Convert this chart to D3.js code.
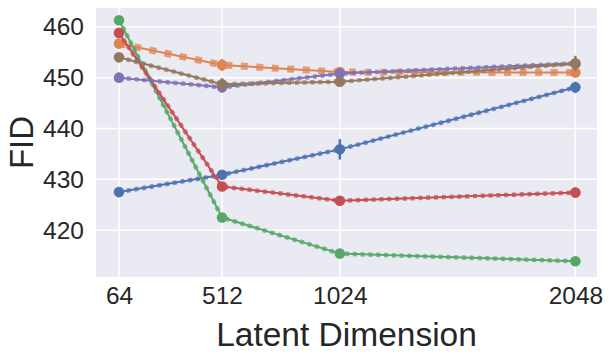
<!DOCTYPE html>
<html>
<head>
<meta charset="utf-8">
<script src="https://cdn.jsdelivr.net/npm/d3@7"></script>
<style>
	body { margin: 0; background: #fff; }
	text { font-family: "Liberation Sans", Arial, sans-serif; fill: #262626; }
</style>
</head>
<body>
<svg id="chart" width="610" height="354"></svg>
<script>
// latent dimension sizes on the x axis
var dims = [64, 512, 1024, 2048];
var yTicks = [420, 430, 440, 450, 460];

// FID per run
var blueFid = [427.5, 430.9, 435.9, 448.1];
var orangeFid = [456.7, 452.5, 451.1, 451.0];
var greenFid = [461.3, 422.5, 415.4, 413.9];
var redFid = [458.8, 428.6, 425.8, 427.4];
var purpleFid = [450.0, 448.1, 450.8, 452.8];
var brownFid = [454.0, 448.7, 449.2, 452.8];

// half length of the error bars
var blueErr = [0.3, 0.6, 2.0, 1.1];
var orangeErr = [0.5, 1.2, 1.0, 0.5];
var greenErr = [0.3, 0.3, 0.3, 0.3];
var redErr = [0.5, 0.5, 0.5, 1.0];
var purpleErr = [0.3, 1.0, 0.5, 0.5];
var brownErr = [0.5, 1.2, 0.5, 1.5];

var series = [
	{vals: blueFid, err: blueErr, color: '#4C72B0', big: false},
	{vals: orangeFid, err: orangeErr, color: '#DD8452', big: true},
	{vals: greenFid, err: greenErr, color: '#55A868', big: false},
	{vals: redFid, err: redErr, color: '#C44E52', big: false},
	{vals: purpleFid, err: purpleErr, color: '#8172B3', big: false},
	{vals: brownFid, err: brownErr, color: '#937860', big: false}
];

var svg = d3.select('#chart');
// plot box (note: "top" is taken by window.top)
var pLeft = 96, pRight = 597, pTop = 8, pBottom = 277;

var x = d3.scaleLinear().domain([-36, 2142]).range([pLeft, pRight]);
var y = d3.scaleLinear().domain([410.8, 463.7]).range([pBottom, pTop]);

svg.append('rect')
	.attr('x', pLeft).attr('y', pTop)
	.attr('width', pRight - pLeft).attr('height', pBottom - pTop)
	.attr('fill', '#EAEAF2');

// grid
svg.append('g').selectAll('line').data(dims).join('line')
	.attr('x1', d => x(d)).attr('x2', d => x(d))
	.attr('y1', pTop).attr('y2', pBottom)
	.attr('stroke', '#fff').attr('stroke-width', 1.5);
svg.append('g').selectAll('line').data(yTicks).join('line')
	.attr('x1', pLeft).attr('x2', pRight)
	.attr('y1', d => y(d)).attr('y2', d => y(d))
	.attr('stroke', '#fff').attr('stroke-width', 1.5);

// axes, only the labels are shown
var xAxis = svg.append('g')
	.attr('transform', `translate(0,${pBottom})`)
	.call(d3.axisBottom(x).tickValues(dims).tickFormat(d3.format('d')).tickSize(0).tickPadding(10));
var yAxis = svg.append('g')
	.attr('transform', `translate(${pLeft},0)`)
	.call(d3.axisLeft(y).tickValues(yTicks).tickFormat(d3.format('d')).tickSize(0).tickPadding(12));
[xAxis, yAxis].forEach(function (a) {
	a.select('.domain').remove();
	a.attr('font-size', 24.5).attr('font-family', '"Liberation Sans", Arial, sans-serif');
	a.selectAll('text').attr('fill', '#262626');
});

svg.append('text')
	.attr('x', (pLeft + pRight) / 2).attr('y', 346)
	.attr('text-anchor', 'middle')
	.attr('font-size', 33.5)
	.text('Latent Dimension');
svg.append('text')
	.attr('transform', `translate(33,${(pTop + pBottom) / 2}) rotate(-90)`)
	.attr('text-anchor', 'middle')
	.attr('font-size', 33)
	.text('FID');

var line = d3.line()
	.x((d, i) => x(dims[i]))
	.y(d => y(d));

series.forEach(function (s) {
	var g = svg.append('g');
	g.append('path')
		.attr('d', line(s.vals))
		.attr('fill', 'none')
		.attr('stroke', s.color)
		.attr('stroke-width', 2);
	// the little square markers along each line
	g.append('path')
		.attr('d', line(s.vals))
		.attr('fill', 'none')
		.attr('stroke', s.color)
		.attr('stroke-opacity', 0.75)
		.attr('stroke-width', s.big ? 7 : 4.5)
		.attr('stroke-dasharray', s.big ? '7 8.5' : '4 3.8');
	g.selectAll('.err').data(s.vals).join('line')
		.attr('class', 'err')
		.attr('x1', (d, i) => x(dims[i])).attr('x2', (d, i) => x(dims[i]))
		.attr('y1', (d, i) => y(d - s.err[i])).attr('y2', (d, i) => y(d + s.err[i]))
		.attr('stroke', s.color).attr('stroke-width', 2.5);
	g.selectAll('circle').data(s.vals).join('circle')
		.attr('cx', (d, i) => x(dims[i]))
		.attr('cy', d => y(d))
		.attr('r', 5.3)
		.attr('fill', s.color);
});
</script>
</body>
</html>
